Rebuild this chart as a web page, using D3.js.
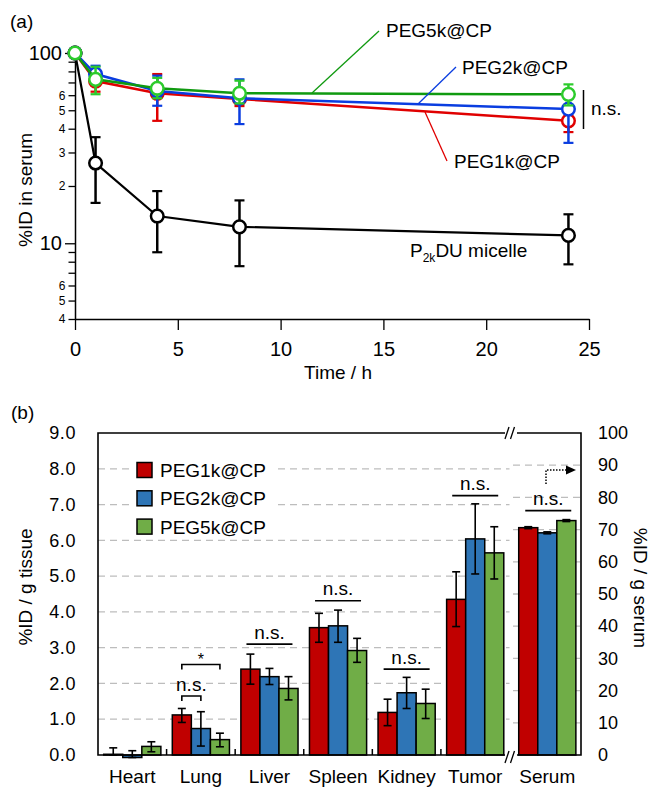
<!DOCTYPE html>
<html><head><meta charset="utf-8">
<script src="https://cdn.jsdelivr.net/npm/d3@7"></script>
<style>body{margin:0;background:#fff}svg{display:block;font-family:"Liberation Sans",Arial,Helvetica,sans-serif}</style>
</head><body><svg id="c" width="653" height="788"></svg>
<script>
// ---------- Panel (a) data ----------
const times = [0, 1, 4, 8, 24];
const seriesNames = ["P2kDU micelle", "PEG1k@CP", "PEG2k@CP", "PEG5k@CP"];
const micMean = [100, 26.4, 13.9, 12.2, 11.0];
const micLo   = [100, 16.3, 8.97, 7.58, 7.75];
const micHi   = [100, 36.1, 18.8, 16.8, 14.2];
const p1Mean = [100, 71.2, 61.4, 57.3, 44.0];
const p1Lo   = [100, 62.6, 44.0, 52.6, 38.4];
const p1Hi   = [100, 80.0, 77.5, 62.0, 51.0];
const p2Mean = [100, 77.5, 63.1, 57.8, 50.7];
const p2Lo   = [100, 70.0, 52.8, 42.3, 33.7];
const p2Hi   = [100, 85.7, 76.0, 72.7, 58.0];
const p5Mean = [100, 72.7, 65.2, 61.4, 60.6];
const p5Lo   = [100, 60.7, 57.8, 54.3, 53.0];
const p5Hi   = [100, 84.7, 74.0, 71.5, 68.4];
const xTicksA = [0, 5, 10, 15, 20, 25];
const yTicksA = [4, 5, 6, 7, 8, 9, 10, 20, 30, 40, 50, 60, 70, 80, 90, 100];
const yTickLabelsA = ["4", "5", "6", "", "", "", "10", "2", "3", "4", "5", "6", "", "", "", "100"];

// ---------- Panel (b) data ----------
const tissues = ["Heart", "Lung", "Liver", "Spleen", "Kidney", "Tumor"];
const serumCat = ["Serum"];
const groups = ["PEG1k@CP", "PEG2k@CP", "PEG5k@CP"];
const t1Mean = [0.02, 1.12, 2.40, 3.56, 1.19, 4.35];
const t1Lo   = [0.00, 0.91, 1.98, 3.15, 0.82, 3.59];
const t1Hi   = [0.20, 1.30, 2.82, 3.96, 1.56, 5.12];
const t2Mean = [-0.07, 0.74, 2.19, 3.61, 1.74, 6.04];
const t2Lo   = [-0.07, 0.25, 1.97, 3.15, 1.30, 5.06];
const t2Hi   = [0.12, 1.21, 2.42, 4.05, 2.17, 7.02];
const t5Mean = [0.24, 0.43, 1.86, 2.92, 1.44, 5.65];
const t5Lo   = [0.09, 0.23, 1.54, 2.59, 1.02, 4.92];
const t5Hi   = [0.37, 0.61, 2.19, 3.26, 1.84, 6.38];
const serumMean = [70.6, 69.0, 72.8];
const serumLo   = [70.3, 68.7, 72.5];
const serumHi   = [70.9, 69.3, 73.1];
const yTicksL = [0, 1, 2, 3, 4, 5, 6, 7, 8, 9];
const yTicksR = [0, 10, 20, 30, 40, 50, 60, 70, 80, 90, 100];
// significance marks: category, height (left axis units)
const sigCats   = ["Liver", "Spleen", "Kidney", "Tumor"];
const sigLevels = [3.10, 4.31, 2.40, 7.25];
const serumSigLevel = 75.9;
const lungNsLevel = 1.65, lungStarLevel = 2.53;

// ---------- drawing ----------
const svg = d3.select("#c");
const FONT = 19;

// ===== Panel (a) =====
const x = d3.scaleLinear([0, 25], [75, 589]);
const y = d3.scaleLog([4, 107.5], [319, 47]);
const gA = svg.append("g");

gA.append("text").attr("x", 10).attr("y", 28).attr("font-size", FONT).text("(a)");

const yAx = gA.append("g").attr("transform", "translate(75,0)")
  .call(d3.axisLeft(y).tickValues(yTicksA).tickFormat((d, i) => yTickLabelsA[i]).tickSizeOuter(0));
yAx.select(".domain").attr("stroke-width", 1.5);
yAx.selectAll(".tick").each(function(d) {
  const major = (d === 10 || d === 100);
  const t = d3.select(this);
  t.select("line").attr("x2", major ? -10 : -6.5).attr("stroke-width", 1.3);
  t.select("text").attr("x", major ? -13 : -9.5).attr("font-size", major ? 20 : 12)
    .attr("font-family", null).attr("fill", "#000");
});

const xAx = gA.append("g").attr("transform", "translate(0,319)")
  .call(d3.axisBottom(x).tickValues(xTicksA).tickSize(11).tickPadding(12).tickSizeOuter(0));
xAx.select(".domain").attr("stroke-width", 1.5);
xAx.selectAll(".tick line").attr("stroke-width", 1.3);
xAx.selectAll(".tick text").attr("font-size", 20).attr("font-family", null).attr("fill", "#000");

gA.append("text").attr("x", 338).attr("y", 379).attr("text-anchor", "middle").attr("font-size", FONT).text("Time / h");
gA.append("text").attr("transform", "translate(32,190) rotate(-90)").attr("text-anchor", "middle")
  .attr("font-size", FONT).text("%ID in serum");

const seriesA = [
  {mean: micMean, lo: micLo, hi: micHi, line: "#000", mark: "#000", w: 2.2},
  {mean: p1Mean, lo: p1Lo, hi: p1Hi, line: "#e00000", mark: "#e00000", w: 2.5},
  {mean: p2Mean, lo: p2Lo, hi: p2Hi, line: "#0a3de0", mark: "#0a3de0", w: 2.5},
  {mean: p5Mean, lo: p5Lo, hi: p5Hi, line: "#109a10", mark: "#2ccb2c", w: 2.5}
];
const lineGen = d3.line().x(d => x(d.t)).y(d => y(d.v));
seriesA.forEach(s => {
  const pts = times.map((t, i) => ({t, v: s.mean[i], lo: s.lo[i], hi: s.hi[i]}));
  const g = gA.append("g");
  g.append("path").datum(pts).attr("d", lineGen).attr("fill", "none")
    .attr("stroke", s.line).attr("stroke-width", s.w);
  const eb = g.selectAll(".eb").data(pts.filter(p => p.t > 0)).join("g");
  eb.append("line").attr("x1", d => x(d.t)).attr("x2", d => x(d.t))
    .attr("y1", d => y(d.lo)).attr("y2", d => y(d.hi)).attr("stroke", s.mark).attr("stroke-width", 2.5);
  [ "lo", "hi" ].forEach(k => {
    eb.append("line").attr("x1", d => x(d.t) - 5).attr("x2", d => x(d.t) + 5)
      .attr("y1", d => y(d[k])).attr("y2", d => y(d[k])).attr("stroke", s.mark).attr("stroke-width", 2.2);
  });
  g.selectAll("circle").data(pts).join("circle").attr("cx", d => x(d.t)).attr("cy", d => y(d.v))
    .attr("r", 6.3).attr("fill", "#fff").attr("stroke", s.mark).attr("stroke-width", 2.5);
});

// series labels with leader lines
const lab = (x1, y1, x2, y2, col, tx, ty, txt) => {
  gA.append("line").attr("x1", x1).attr("y1", y1).attr("x2", x2).attr("y2", y2)
    .attr("stroke", col).attr("stroke-width", 1.3);
  gA.append("text").attr("x", tx).attr("y", ty).attr("font-size", FONT).text(txt);
};
lab(312, 93, 379, 31, "#109a10", 386, 37, seriesNames[3]);
lab(418, 104, 456, 67, "#0a3de0", 462, 74, seriesNames[2]);
lab(425, 112, 447, 161, "#e00000", 454, 168, seriesNames[1]);
const mic = gA.append("text").attr("x", 410).attr("y", 257).attr("font-size", FONT);
mic.append("tspan").text("P");
mic.append("tspan").attr("font-size", 12).attr("dy", 5).text("2k");
mic.append("tspan").attr("dy", -5).text("DU micelle");
gA.append("line").attr("x1", 583.5).attr("x2", 583.5).attr("y1", 90).attr("y2", 129).attr("stroke", "#000").attr("stroke-width", 1.5);
gA.append("text").attr("x", 591).attr("y", 115).attr("font-size", FONT).text("n.s.");

// ===== Panel (b) =====
const gB = svg.append("g");
const yL = d3.scaleLinear([0, 9], [755, 433]);
const yR = d3.scaleLinear([0, 100], [755, 433]);
const xT = d3.scaleBand(tissues, [98, 509.5]).paddingInner(0).paddingOuter(0);
const xS = d3.scaleBand(serumCat, [513, 581.5]).paddingInner(0).paddingOuter(0);
const xG = d3.scaleBand(groups, [0, xT.bandwidth()]).paddingInner(0).paddingOuter(0.3);
const barCols = ["#c00000", "#2e75b6", "#70ad47"];

gB.append("text").attr("x", 11).attr("y", 419).attr("font-size", FONT).text("(b)");

// gridlines
gB.append("g").selectAll("line").data(yTicksL.filter(v => v > 0 && v < 9)).join("line")
  .attr("x1", 98).attr("x2", 509.5).attr("y1", d => yL(d)).attr("y2", d => yL(d))
  .attr("stroke", "#bdbdbd").attr("stroke-width", 1.3).attr("stroke-dasharray", "7,5");
gB.append("g").selectAll("line").data(yTicksR.filter(v => v > 0 && v < 100)).join("line")
  .attr("x1", 513).attr("x2", 581).attr("y1", d => yR(d)).attr("y2", d => yR(d))
  .attr("stroke", "#bdbdbd").attr("stroke-width", 1.3).attr("stroke-dasharray", "7,5");

// axes labels
const aL = gB.append("g").attr("transform", "translate(98,0)")
  .call(d3.axisLeft(yL).tickValues(yTicksL).tickFormat(d3.format(".1f")).tickSize(0).tickPadding(22));
aL.select(".domain").remove();
aL.selectAll("text").attr("font-size", 18).attr("font-family", null).attr("fill", "#000").attr("letter-spacing", 0.6);
const aR = gB.append("g").attr("transform", "translate(581,0)")
  .call(d3.axisRight(yR).tickValues(yTicksR).tickSize(0).tickPadding(17));
aR.select(".domain").remove();
aR.selectAll("text").attr("font-size", 18).attr("font-family", null).attr("fill", "#000");

gB.append("text").attr("transform", "translate(32,587) rotate(-90)").attr("text-anchor", "middle")
  .attr("font-size", FONT).text("%ID / g tissue");
gB.append("text").attr("transform", "translate(634,588) rotate(90)").attr("text-anchor", "middle")
  .attr("font-size", FONT).text("%ID / g serum");

// bars
const tissueSets = [[t1Mean, t1Lo, t1Hi], [t2Mean, t2Lo, t2Hi], [t5Mean, t5Lo, t5Hi]];
const barData = [];
tissues.forEach((c, i) => groups.forEach((g, j) => {
  barData.push({x: xT(c) + xG(g), v: tissueSets[j][0][i], lo: tissueSets[j][1][i], hi: tissueSets[j][2][i], col: barCols[j], ys: yL});
}));
groups.forEach((g, j) => {
  barData.push({x: xS("Serum") + xG(g), v: serumMean[j], lo: serumLo[j], hi: serumHi[j], col: barCols[j], ys: yR});
});
const bw = xG.bandwidth();
gB.append("g").selectAll("rect").data(barData).join("rect")
  .attr("x", d => d.x).attr("width", bw)
  .attr("y", d => Math.min(d.ys(d.v), d.ys(0))).attr("height", d => Math.abs(d.ys(d.v) - d.ys(0)))
  .attr("fill", d => d.col).attr("stroke", "#000").attr("stroke-width", 1.5);
const ebB = gB.append("g").selectAll("g").data(barData).join("g");
ebB.append("line").attr("x1", d => d.x + bw / 2).attr("x2", d => d.x + bw / 2)
  .attr("y1", d => d.ys(d.lo)).attr("y2", d => d.ys(d.hi)).attr("stroke", "#000").attr("stroke-width", 1.6);
["lo", "hi"].forEach(k => {
  ebB.append("line").attr("x1", d => d.x + bw / 2 - 4).attr("x2", d => d.x + bw / 2 + 4)
    .attr("y1", d => d.ys(d[k])).attr("y2", d => d.ys(d[k])).attr("stroke", "#000").attr("stroke-width", 1.6);
});

// frame with breaks
const fr = gB.append("g").attr("stroke", "#000").attr("stroke-width", 1.6).attr("fill", "none");
fr.append("path").attr("d", "M505,433 H98 V755 H505");
fr.append("path").attr("d", "M517,433 H581 V755 H517");
[433, 757].forEach(yy => {
  fr.append("line").attr("x1", 505).attr("y1", yy + 6).attr("x2", 509).attr("y2", yy - 6).attr("stroke-width", 1.3);
  fr.append("line").attr("x1", 510.5).attr("y1", yy + 6).attr("x2", 514.5).attr("y2", yy - 6).attr("stroke-width", 1.3);
});
// category boundary ticks
gB.append("g").selectAll("line").data(tissues.slice(1)).join("line")
  .attr("x1", d => xT(d)).attr("x2", d => xT(d)).attr("y1", 755).attr("y2", 749)
  .attr("stroke", "#000").attr("stroke-width", 1.5);

// category labels
const cx = gB.append("g").attr("transform", "translate(0,755)")
  .call(d3.axisBottom(xT).tickSize(0).tickPadding(14.5));
cx.select(".domain").remove();
cx.selectAll("text").attr("font-size", FONT).attr("font-family", null).attr("fill", "#000");
const sx = gB.append("g").attr("transform", "translate(0,755)")
  .call(d3.axisBottom(xS).tickSize(0).tickPadding(14.5));
sx.select(".domain").remove();
sx.selectAll("text").attr("font-size", FONT).attr("font-family", null).attr("fill", "#000");

// legend
const lg = gB.append("g");
lg.append("rect").attr("x", 133).attr("y", 456).attr("width", 140).attr("height", 82).attr("fill", "#fff");
groups.forEach((g, j) => {
  const cy = 470 + j * 28.3;
  lg.append("rect").attr("x", 137).attr("y", cy - 7.5).attr("width", 15).attr("height", 15)
    .attr("fill", barCols[j]).attr("stroke", "#000").attr("stroke-width", 1.5);
  lg.append("text").attr("x", 160).attr("y", cy + 7).attr("font-size", FONT).text(g);
});

// significance
const sig = gB.append("g");
const nsAt = (cxm, yy) => {
  sig.append("line").attr("x1", cxm - 23).attr("x2", cxm + 23).attr("y1", yy).attr("y2", yy)
    .attr("stroke", "#000").attr("stroke-width", 1.6);
  sig.append("text").attr("x", cxm).attr("y", yy - 5.5).attr("text-anchor", "middle").attr("font-size", FONT).text("n.s.");
};
sigCats.forEach((c, i) => nsAt(xT(c) + xT.bandwidth() / 2, yL(sigLevels[i])));
nsAt(xS("Serum") + xS.bandwidth() / 2 + 1, yR(serumSigLevel));
const bracket = (x1, x2, yy) => sig.append("path")
  .attr("d", `M${x1},${yy + 5}V${yy}H${x2}V${yy + 5}`).attr("fill", "none").attr("stroke", "#000").attr("stroke-width", 1.6);
const lungX = j => xT("Lung") + xG(groups[j]) + bw / 2;
bracket(lungX(0), lungX(1), yL(lungNsLevel));
sig.append("text").attr("x", (lungX(0) + lungX(1)) / 2).attr("y", yL(lungNsLevel) - 4.5)
  .attr("text-anchor", "middle").attr("font-size", FONT).text("n.s.");
bracket(lungX(0), lungX(2), yL(lungStarLevel));
sig.append("text").attr("x", (lungX(0) + lungX(2)) / 2).attr("y", yL(lungStarLevel) + 1)
  .attr("text-anchor", "middle").attr("font-size", 16).text("*");

// dotted arrow
sig.append("path").attr("d", "M546,484 V470 H566").attr("fill", "none").attr("stroke", "#000")
  .attr("stroke-width", 1.5).attr("stroke-dasharray", "1.5,1.5");
sig.append("path").attr("d", "M566,465.5 L576,470 L566,474.5 Z").attr("fill", "#000");
</script>
</body></html>
